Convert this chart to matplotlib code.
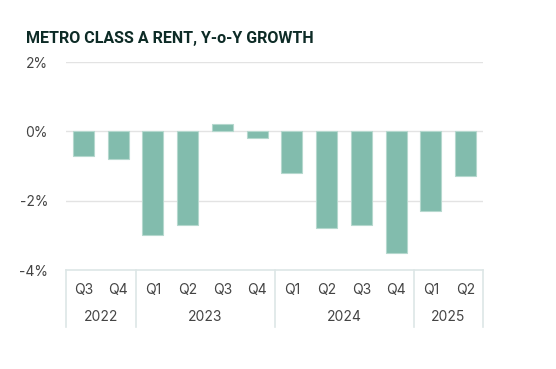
import matplotlib
matplotlib.use("Agg")
import matplotlib.pyplot as plt
from matplotlib.ticker import FuncFormatter

quarters = ["Q3", "Q4", "Q1", "Q2", "Q3", "Q4", "Q1", "Q2", "Q3", "Q4", "Q1", "Q2"]
years = ["2022", "2023", "2024", "2025"]
year_counts = [2, 4, 4, 2]
growth = [-0.7, -0.8, -3.0, -2.7, 0.2, -0.2, -1.2, -2.8, -2.7, -3.5, -2.3, -1.3]
yticks = [2, 0, -2, -4]

plt.rcParams['font.family'] = ['Inter', 'DejaVu Sans']

W, H = 556, 369
fig = plt.figure(figsize=(W / 100, H / 100), dpi=100)
ax = fig.add_axes([66 / W, 1 - 270 / H, (483 - 66) / W, (270 - 62) / H])

x = list(range(len(growth)))
ax.bar(x, growth, width=0.6, color="#82bcad", edgecolor="#b5d8ce", linewidth=0.8, zorder=3)

ax.set_xlim(-0.5, len(growth) - 0.5)
ax.set_ylim(-4, 2)
ax.set_yticks(yticks)
ax.yaxis.set_major_formatter(FuncFormatter(lambda v, p: f"{int(v)}%"))
ax.tick_params(axis="y", length=0, pad=13, labelsize=10, labelcolor="#444444")
ax.set_xticks([])
for s in ax.spines.values():
    s.set_visible(False)
for t in yticks[:-1]:
    ax.axhline(t, color="#e3e3e3", linewidth=1.0, zorder=1)

# two-level category axis
trans = ax.get_xaxis_transform()
line_c = "#dde6e6"
ax.plot([-0.5, len(growth) - 0.5], [0, 0], transform=trans, color=line_c, lw=1.2, clip_on=False)
bottom = -57 / 208
bounds = [-0.5]
for c in year_counts:
    bounds.append(bounds[-1] + c)
for b in bounds:
    ax.plot([b, b], [0, bottom], transform=trans, color=line_c, lw=1.2, clip_on=False)
for i, q in enumerate(quarters):
    ax.text(i, -20 / 208, q, transform=trans, ha="center", va="center", fontsize=10, color="#444444")
for j, yr in enumerate(years):
    ax.text((bounds[j] + bounds[j + 1]) / 2, -47 / 208, yr, transform=trans, ha="center", va="center",
            fontsize=10, color="#444444")

fig.text(26 / W, 1 - 38 / H, "METRO CLASS A RENT, Y-o-Y GROWTH", ha="left", va="center",
         fontsize=11.5, fontweight="bold", color="#0d2b26", family=["Roboto", "DejaVu Sans"])

fig.savefig("out.png", dpi=100, facecolor="white")
